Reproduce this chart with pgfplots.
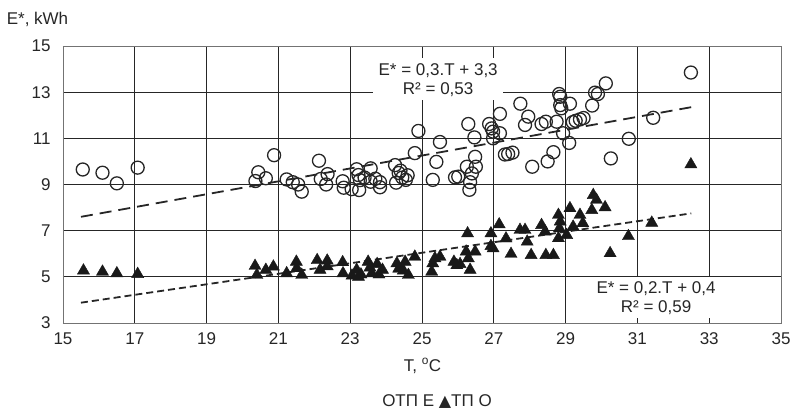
\documentclass[border=0pt]{standalone}
\usepackage{pgfplots}
\pgfplotsset{compat=1.18}
\usepackage{fontspec}
\setmainfont{Liberation Sans}
\newfontfamily\dejavu{DejaVu Sans}
\pgfplotstableread{
x y
15.55 9.65
16.1 9.51
16.5 9.05
17.08 9.73
20.36 9.15
20.44 9.53
20.65 9.27
20.88 10.27
21.23 9.22
21.4 9.1
21.55 9.0
21.65 8.69
22.13 10.03
22.18 9.24
22.37 9.45
22.33 9.0
22.79 9.14
22.82 8.86
23.04 8.8
23.25 8.76
23.18 9.66
23.23 9.41
23.27 9.19
23.4 9.3
23.57 9.7
23.57 9.12
23.7 9.25
23.83 8.88
23.83 9.1
24.28 9.08
24.25 9.84
24.35 9.5
24.45 9.3
24.55 9.2
24.6 9.4
24.4 9.6
24.8 10.36
24.9 11.32
25.3 9.2
25.4 9.98
25.5 10.84
25.92 9.31
26.01 9.34
26.25 9.77
26.29 11.62
26.32 8.77
26.34 9.1
26.39 9.48
26.46 11.04
26.48 10.2
26.5 9.77
26.87 11.62
26.94 11.43
26.98 11.29
26.98 11.0
27.17 11.22
27.17 12.06
27.31 10.3
27.4 10.32
27.52 10.38
27.74 12.5
27.87 11.58
27.96 11.94
28.07 9.77
28.33 11.62
28.45 11.72
28.5 10.0
28.66 10.4
28.75 11.72
28.82 12.92
28.85 12.8
28.85 12.44
28.88 12.3
28.93 11.22
29.1 10.8
29.12 12.5
29.2 11.7
29.28 11.76
29.4 11.82
29.5 11.88
29.74 12.42
29.82 12.98
29.9 12.92
30.12 13.38
30.26 10.13
30.76 10.98
31.44 11.89
32.49 13.85
}\circdata
\pgfplotstableread{
x y
15.57 5.27
16.1 5.22
16.5 5.15
17.08 5.12
20.35 5.47
20.4 5.08
20.65 5.3
20.86 5.44
21.23 5.15
21.5 5.65
21.51 5.37
21.65 5.08
22.08 5.72
22.16 5.3
22.36 5.7
22.36 5.45
22.79 5.63
22.8 5.15
23.05 5.05
23.18 5.3
23.23 5.0
23.3 5.1
23.5 5.65
23.55 5.4
23.6 5.15
23.75 5.55
23.8 5.1
23.9 5.3
24.3 5.58
24.35 5.35
24.48 5.27
24.53 5.65
24.62 5.08
24.8 5.87
25.27 5.22
25.3 5.58
25.36 5.8
25.5 5.87
25.89 5.65
25.97 5.5
26.06 5.55
26.23 6.09
26.27 6.88
26.29 5.8
26.34 5.3
26.48 6.09
26.92 6.88
26.92 6.33
26.98 6.23
27.15 7.27
27.34 6.66
27.48 5.99
27.73 7.03
27.87 7.03
27.93 6.52
28.04 5.94
28.33 7.24
28.43 6.96
28.45 5.94
28.66 5.94
28.8 7.68
28.85 7.39
28.83 7.1
28.8 6.67
29.03 6.81
29.12 7.97
29.21 7.17
29.4 7.68
29.48 7.32
29.73 7.89
29.77 8.54
29.86 8.33
30.1 8.01
30.24 6.02
30.75 6.76
31.4 7.34
32.49 9.87
}\tridata
\begin{document}
\begin{tikzpicture}
\useasboundingbox (-63bp,-89bp) rectangle (728bp,323bp);
\begin{axis}[
  at={(0bp,0bp)}, anchor=south west,
  scale only axis, width=718bp, height=277bp,
  xmin=15, xmax=35, ymin=3, ymax=15,
  xtick={15,17,...,35}, ytick={3,5,...,15},
  grid=major, major grid style={black!85, line width=0.8bp},
  axis line style={black!55, line width=0.8bp},
  major tick length=0pt,
  tick label style={font=\fontsize{17bp}{19bp}\selectfont, text=black!85},
  /pgf/number format/assume math mode=true,
  xticklabel style={yshift=-6bp},
  yticklabel style={xshift=-9bp},
  clip=false,
]
\addplot[only marks, mark=o, mark size=6.5bp, mark options={line width=1.3bp, draw=black!85}] table[x=x,y=y] {\circdata};
\addplot[only marks, mark=triangle*, mark size=7bp, mark options={draw=black!90, fill=black!90}] table[x=x,y=y] {\tridata};
\addplot[black!85, line width=1.8bp, dash pattern=on 12bp off 7bp] coordinates {(15.5,7.6) (32.5,12.35)};
\addplot[black!85, line width=1.8bp, dash pattern=on 7bp off 4bp] coordinates {(15.5,3.88) (32.5,7.75)};
\fill[white] (axis cs:23.64,12.66) rectangle (axis cs:27.26,14.48);
\node[align=center, font=\fontsize{17bp}{19bp}\selectfont, text=black!85] at (axis cs:25.45,13.53) {E* = 0,3.T + 3,3\\R² = 0,53};
\fill[white] (axis cs:29.74,3.22) rectangle (axis cs:33.3,4.99);
\node[align=center, font=\fontsize{17bp}{19bp}\selectfont, text=black!85] at (axis cs:31.52,4.08) {E* = 0,2.T + 0,4\\R² = 0,59};
\end{axis}
\node[font=\fontsize{17bp}{19bp}\selectfont, text=black!85] at (-25.5bp,304bp) {E*, kWh};
\node[font=\fontsize{17bp}{19bp}\selectfont, text=black!85] at (359.5bp,-43bp) {T, \textsuperscript{o}C};
\node[font=\fontsize{17bp}{19bp}\selectfont, text=black!85, inner sep=1bp] at (374bp,-79bp) {OТП Е {\dejavu\fontsize{16bp}{18bp}\selectfont▲}ТП О};
\end{tikzpicture}
\end{document}
